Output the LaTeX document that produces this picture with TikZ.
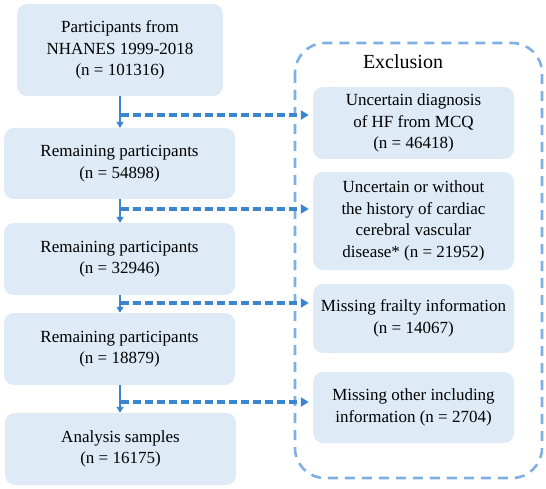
\documentclass[tikz,border=0pt]{standalone}
\usepackage{fontspec}
\setmainfont{Liberation Serif}
\usetikzlibrary{arrows.meta,calc}
\definecolor{boxfill}{HTML}{DEEAF6}
\definecolor{arrowblue}{HTML}{3A85CE}
\definecolor{borderblue}{HTML}{7EB1E2}
\tikzset{
  flowbox/.style={fill=boxfill, draw=none, rounded corners=10pt, align=center,
    font=\fontsize{17pt}{21.5pt}\selectfont, inner sep=0pt},
  mainarrow/.style={draw=arrowblue, line width=1.8pt, -{Triangle[length=6pt,width=7pt]}},
  exarrow/.style={draw=arrowblue, line width=3.3pt, dash pattern=on 8pt off 4pt,
    -{Triangle[length=8pt,width=9pt]}, shorten >=4pt},
  exborder/.style={draw=borderblue, line width=2.6pt, dash pattern=on 10pt off 7pt, rounded corners=30pt},
}
\begin{document}
\begin{tikzpicture}[x=1pt,y=-1pt]
\useasboundingbox (0,0) rectangle (546,489);
% exclusion frame
\draw[exborder] (295,43) rectangle (542,478);
\node[font=\fontsize{20pt}{24pt}\selectfont] (exl) at (403,62) {Exclusion};
% left boxes
\node[flowbox, minimum width=206pt, minimum height=92pt] (b1) at (120,50)
  {Participants from\\NHANES 1999-2018\\(n = 101316)};
\node[flowbox, minimum width=231pt, minimum height=71pt] (b2) at (119.5,163.5)
  {Remaining participants\\(n = 54898)};
\node[flowbox, minimum width=231pt, minimum height=72pt] (b3) at (119.5,259)
  {Remaining participants\\(n = 32946)};
\node[flowbox, minimum width=231pt, minimum height=72pt] (b4) at (119.5,349)
  {Remaining participants\\(n = 18879)};
\node[flowbox, minimum width=231pt, minimum height=72pt] (b5) at (120.5,449)
  {Analysis samples\\(n = 16175)};
% exclusion boxes
\node[flowbox, minimum width=201pt, minimum height=72pt] (e1) at (413.5,123)
  {Uncertain diagnosis\\of HF from MCQ\\(n = 46418)};
\node[flowbox, minimum width=201pt, minimum height=98pt] (e2) at (413.5,221)
  {Uncertain or without\\the history of cardiac\\cerebral vascular\\disease* (n = 21952)};
\node[flowbox, minimum width=201pt, minimum height=69pt] (e3) at (413.5,318.5)
  {Missing frailty information\\(n = 14067)};
\node[flowbox, minimum width=201pt, minimum height=71pt] (e4) at (413.5,407.5)
  {Missing other including\\information (n = 2704)};
% branch points
\coordinate (c1) at (121,115);
\coordinate (c2) at (121,209);
\coordinate (c3) at (121,303);
\coordinate (c4) at (121,402);
% main arrows
\draw[mainarrow] (b1.south -| 120,0) -- (b2.north -| 120,0);
\draw[mainarrow] (b2.south -| 120,0) -- (b3.north -| 120,0);
\draw[mainarrow] (b3.south -| 120,0) -- (b4.north -| 120,0);
\draw[mainarrow] (b4.south -| 120,0) -- (b5.north -| 120,0);
% exclusion arrows
\draw[exarrow] (c1) -- (c1 -| e1.west);
\draw[exarrow] (c2) -- (c2 -| e2.west);
\draw[exarrow] (c3) -- (c3 -| e3.west);
\draw[exarrow] (c4) -- (c4 -| e4.west);
\end{tikzpicture}
\end{document}
